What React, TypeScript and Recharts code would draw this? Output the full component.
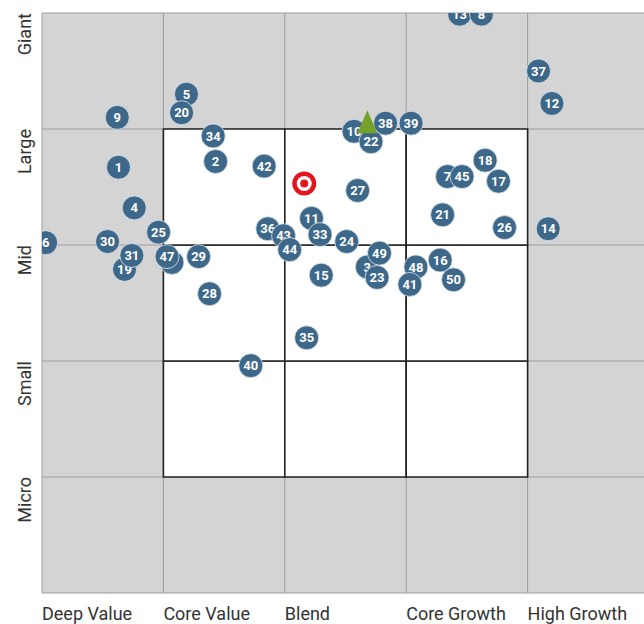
import {
  ScatterChart,
  Scatter,
  XAxis,
  YAxis,
  CartesianGrid,
  ReferenceArea,
} from "recharts";

// Style columns (x) and size rows (y); each band spans 100 units.
const styleLabels = ["Deep Value", "Core Value", "Blend", "Core Growth", "High Growth"];
const sizeLabels = ["Micro", "Small", "Mid", "Large", "Giant"];
const bandTicks = [0, 100, 200, 300, 400, 500];

// Holdings, listed back to front (later ones are drawn on top).
const holdingIds = [
  "10", "36", "3", "32", "7", "43", "13", "8",
  "5", "20", "9", "34", "1", "2", "42", "37", "12", "38", "22", "39",
  "45", "18", "17", "27", "4", "6", "30", "25", "19", "31", "47", "29",
  "28", "44", "11", "33", "24", "49", "23", "15", "35", "40", "21", "26",
  "14", "48", "16", "50", "41",
];
const styleScores = [
  257, 186, 268, 107, 334, 199, 344, 362,
  119, 115, 62, 141, 63, 143, 183, 409, 420, 283, 271, 304,
  346, 365, 376, 260, 76, 3, 54, 96, 68, 74, 103, 129,
  138, 204, 222, 229, 251, 278, 276, 230, 218, 172, 330, 381,
  417, 308, 328, 339, 303,
];
const sizeScores = [
  398, 314, 281, 285, 359, 308, 499, 499,
  430, 414, 410, 394, 367, 372, 368, 450, 422, 405, 389, 405,
  359, 373, 355, 347, 332, 302, 303, 311, 279, 291, 290, 290,
  258, 296, 323, 309, 303, 293, 272, 274, 220, 196, 326, 315,
  314, 281, 287, 270, 266,
];
// Holdings whose number is fully covered by a neighbour in the picture.
const coveredIds = ["32"];

// Fund centroid (target) and benchmark centroid (triangle).
const fundCentroid = [{ x: 216, y: 353 }];
const benchmarkCentroid = [{ x: 268, y: 405 }];

const holdings = holdingIds.map((id, i) => ({
  id,
  x: styleScores[i],
  y: sizeScores[i],
}));

const FONT = "Roboto, 'DejaVu Sans', sans-serif";
const BUBBLE = "#3d6889";

function Bubble(props: any) {
  const { cx, cy, payload } = props;
  return (
    <g>
      <circle cx={cx} cy={cy} r={12} fill={BUBBLE} stroke="#dfe7ee" strokeWidth={0.8} />
      {!coveredIds.includes(payload.id) && (
        <text
          x={cx}
          y={cy}
          dy={4.6}
          textAnchor="middle"
          fill="#fff"
          fontWeight="bold"
          fontSize={13}
          fontFamily={FONT}
        >
          {payload.id}
        </text>
      )}
    </g>
  );
}

function Target(props: any) {
  const { cx, cy } = props;
  return (
    <g>
      <circle cx={cx} cy={cy} r={12} fill="#e3161e" />
      <circle cx={cx} cy={cy} r={7.5} fill="#fff" />
      <circle cx={cx} cy={cy} r={4} fill="#e3161e" />
    </g>
  );
}

function Triangle(props: any) {
  const { cx, cy } = props;
  return (
    <polygon
      points={`${cx},${cy - 13} ${cx - 10},${cy + 10} ${cx + 10},${cy + 10}`}
      fill="#76a12a"
    />
  );
}

function StyleTick(props: any) {
  const { x, y, index } = props;
  if (index >= styleLabels.length) return null;
  return (
    <text x={x} y={y} dy={25} textAnchor="start" fill="#333" fontSize={18} fontFamily={FONT}>
      {styleLabels[index]}
    </text>
  );
}

function SizeTick(props: any) {
  const { x, y, index } = props;
  if (index === 0) return null;
  const tx = x - 9;
  return (
    <text
      x={tx}
      y={y}
      transform={`rotate(-90 ${tx} ${y})`}
      textAnchor="end"
      fill="#333"
      fontSize={18}
      fontFamily={FONT}
    >
      {sizeLabels[index - 1]}
    </text>
  );
}

const innerCells: { x1: number; x2: number; y1: number; y2: number }[] = [];
[100, 200, 300].forEach((x1) =>
  [100, 200, 300].forEach((y1) => innerCells.push({ x1, x2: x1 + 100, y1, y2: y1 + 100 }))
);

export default function App() {
  return (
    <div
      style={{
        position: "absolute",
        top: 0,
        left: 0,
        width: 644,
        height: 624,
        overflow: "hidden",
        background: "#fff",
      }}
    >
      <ScatterChart
        width={652}
        height={624}
        margin={{ top: 13, right: 3, bottom: 0, left: 0 }}
      >
        <CartesianGrid fill="#d4d4d4" stroke="#9c9c9c" strokeWidth={1} />
        <XAxis
          type="number"
          dataKey="x"
          domain={[0, 500]}
          ticks={bandTicks}
          allowDataOverflow
          axisLine={false}
          tickLine={false}
          tickSize={0}
          height={31}
          tick={<StyleTick />}
          interval={0}
        />
        <YAxis
          type="number"
          dataKey="y"
          domain={[0, 500]}
          ticks={bandTicks}
          allowDataOverflow
          axisLine={false}
          tickLine={false}
          tickSize={0}
          width={42}
          tick={<SizeTick />}
          interval={0}
        />
        {innerCells.map((c, i) => (
          <ReferenceArea
            key={i}
            x1={c.x1}
            x2={c.x2}
            y1={c.y1}
            y2={c.y2}
            fill="#fff"
            fillOpacity={1}
            stroke="#222"
            strokeWidth={1.6}
            ifOverflow="visible"
          />
        ))}
        <Scatter data={holdings} shape={<Bubble />} isAnimationActive={false} />
        <Scatter data={fundCentroid} shape={<Target />} isAnimationActive={false} />
        <Scatter data={benchmarkCentroid} shape={<Triangle />} isAnimationActive={false} />
      </ScatterChart>
    </div>
  );
}
